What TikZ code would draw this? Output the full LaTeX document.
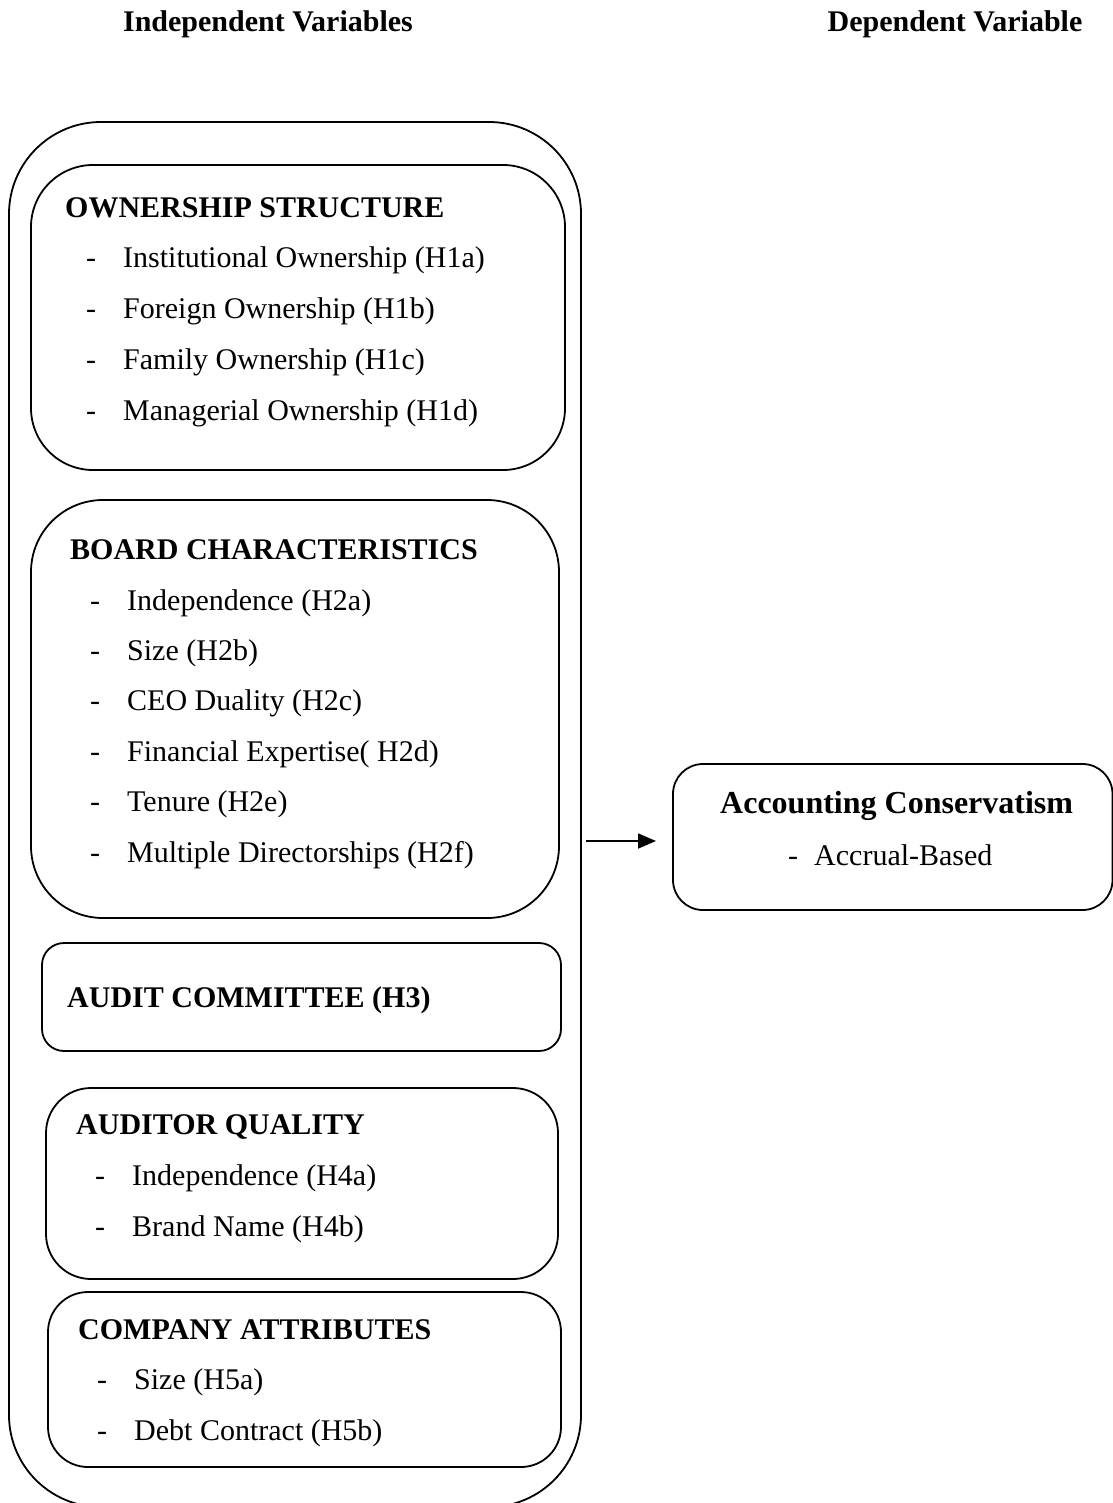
\documentclass[tikz,border=0pt]{standalone}
\usepackage{fontspec}
\setmainfont{Liberation Serif}
\usetikzlibrary{arrows.meta}
\begin{document}
\begin{tikzpicture}[x=1pt,y=-1pt,
  frame/.style={draw,line width=1.8pt},
  hd/.style={anchor=base west,inner sep=0pt,font=\fontsize{30}{36}\selectfont\bfseries},
  it/.style={anchor=base west,inner sep=0pt,font=\fontsize{30}{36}\selectfont},
  dsh/.style={anchor=base west,inner sep=0pt,font=\fontsize{30}{36}\selectfont}]
\useasboundingbox (0,0) rectangle (1112,1503);
% titles
\node[hd,anchor=base] (tind) at (268,32) {Independent Variables};
\node[hd,anchor=base] (tdep) at (955,32) {Dependent Variable};
% outer box
\draw[frame,rounded corners=92pt] (9,122) rectangle (581,1507);
\coordinate (outer) at (581,841);
% ownership
\draw[frame,rounded corners=62pt] (31,165) rectangle (565,470);
\node[hd] (own) at (65,218) {OWNERSHIP STRUCTURE};
\foreach \t/\y [count=\i] in {Institutional Ownership (H1a)/268,Foreign Ownership (H1b)/319,Family Ownership (H1c)/369,Managerial Ownership (H1d)/420}{
  \node[dsh] (ownd\i) at (86,\y) {-};
  \node[it] (owni\i) at (123,\y) {\t};
}
% board
\draw[frame,rounded corners=72pt] (31,500) rectangle (559,918);
\node[hd] (brd) at (70,559) {BOARD CHARACTERISTICS};
\foreach \t/\y [count=\i] in {Independence (H2a)/610,Size (H2b)/660,CEO Duality (H2c)/710,Financial Expertise( H2d)/761,Tenure (H2e)/811,Multiple Directorships (H2f)/862}{
  \node[dsh] (brdd\i) at (90,\y) {-};
  \node[it] (brdi\i) at (127,\y) {\t};
}
% audit committee
\draw[frame,rounded corners=22pt] (42,943) rectangle (561,1051);
\node[hd] (aud) at (67,1007) {AUDIT COMMITTEE (H3)};
% auditor quality
\draw[frame,rounded corners=45pt] (46,1088) rectangle (558,1279);
\node[hd] (aq) at (76,1134) {AUDITOR QUALITY};
\foreach \t/\y [count=\i] in {Independence (H4a)/1185,Brand Name (H4b)/1236}{
  \node[dsh] (aqd\i) at (95,\y) {-};
  \node[it] (aqi\i) at (132,\y) {\t};
}
% company attributes
\draw[frame,rounded corners=40pt] (48,1292) rectangle (561,1467);
\node[hd] (ca) at (78,1339) {COMPANY ATTRIBUTES};
\foreach \t/\y [count=\i] in {Size (H5a)/1389,Debt Contract (H5b)/1440}{
  \node[dsh] (cad\i) at (97,\y) {-};
  \node[it] (cai\i) at (134,\y) {\t};
}
% dependent
\draw[frame,rounded corners=30pt] (673,764) rectangle (1112.5,910);
\node[hd,font=\fontsize{32}{38}\selectfont\bfseries] (acc) at (720,813) {Accounting Conservatism};
\node[dsh] (accd) at (788,865) {-};
\node[it] (acci) at (814,865) {Accrual-Based};
\coordinate (accw) at (673,841);
% arrow
\draw[line width=1.8pt,-{Triangle[length=18pt,width=15pt]}] ([xshift=5pt]outer) -- ([xshift=-17pt]accw);
\end{tikzpicture}
\end{document}
